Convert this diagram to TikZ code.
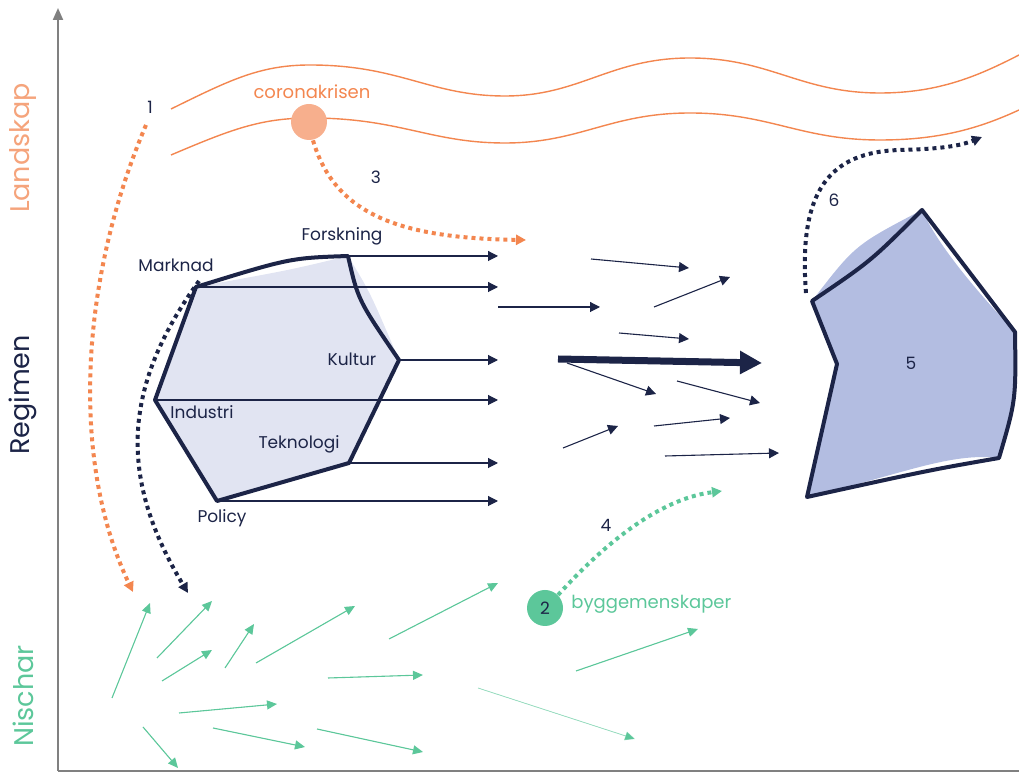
\documentclass[tikz,border=0pt]{standalone}
\usepackage{fontspec}
\setmainfont{Poppins}
\usepackage{xcolor}
\usetikzlibrary{arrows.meta,calc}

\definecolor{navy}{HTML}{1C2447}
\definecolor{coral}{HTML}{F3864F}
\definecolor{peach}{HTML}{F7AF8D}
\definecolor{peachtxt}{HTML}{F5A47C}
\definecolor{mint}{HTML}{5CC79A}
\definecolor{lilac}{HTML}{E1E4F2}
\definecolor{lavender}{HTML}{B3BDE1}
\definecolor{axisgray}{HTML}{808080}

\begin{document}
\begin{tikzpicture}[
  x=0.5pt, y=-0.5pt,
  every node/.style={font=\fontsize{8.5}{10}\selectfont, text=navy, inner sep=0pt},
  biglabel/.style={font=\fontsize{13.5}{15}\selectfont, rotate=90},
  axis/.style ={draw=axisgray, line width=1pt},
  wave/.style ={draw=coral, line width=0.7pt},
  regime/.style={draw=navy, line width=2pt, line join=round},
  flow/.style ={-{Triangle[length=5pt,width=5pt]}, draw=navy, line width=0.55pt},
  bigflow/.style={-{Triangle[length=11pt,width=11pt]}, draw=navy, line width=3.5pt},
  nich/.style ={-{Triangle[length=5pt,width=4.5pt]}, draw=mint, fill=mint, line width=0.55pt},
  dots/.style ={line width=2pt, dash pattern=on 2pt off 2pt,
                -{Triangle[length=5pt,width=5pt]}},
  blob/.style ={circle, minimum size=18pt}
]
\useasboundingbox (0,0) rectangle (1019,774);

%% ---- Axes --------------------------------------------------------
\coordinate (origin) at (58,771);
\coordinate (ytop)   at (58,8);
\coordinate (xend)   at (1019,771);
\draw[axis, -{Triangle[length=6pt,width=5pt]}] (origin) -- (ytop);
\draw[axis] (origin) -- (xend);

\node[biglabel, text=peachtxt] (landskap) at (23,148) {Landskap};
\node[biglabel, text=navy]     (regimen)  at (23,395) {Regimen};
\node[biglabel, text=mint]     (nischar)  at (23,696) {Nischar};

%% ---- Landscape ---------------------------------------------------
\draw[wave] (171,109) .. controls (230,80) and (260,65) .. (310,65)
  .. controls (400,65) and (430,96) .. (505,96)
  .. controls (580,96) and (610,58) .. (690,58)
  .. controls (770,58) and (800,93) .. (880,93)
  .. controls (940,93) and (980,75) .. (1019,55);
\draw[wave] (171,155) .. controls (230,130) and (260,118) .. (310,118)
  .. controls (400,118) and (430,143) .. (505,143)
  .. controls (580,143) and (610,113) .. (690,113)
  .. controls (770,113) and (800,140) .. (880,140)
  .. controls (940,140) and (980,128) .. (1019,110);

\node[blob, fill=peach] (corona) at (309,122) {};
\node[text=coral, font=\fontsize{9}{10}\selectfont] (lcorona) at (312,92) {coronakrisen};

%% ---- Regime ------------------------------------------------------
\coordinate (fo) at (348,256);
\coordinate (ma) at (196,287);
\coordinate (in) at (155,400);
\coordinate (po) at (217,501);
\coordinate (te) at (349,463);
\coordinate (ku) at (399,360);
\coordinate (rim) at (498,0);

\fill[lilac] (ma) .. controls (290,270) .. (fo) .. controls (370,292) .. (ku)
  -- (te) -- (po) -- (in) -- cycle;
\draw[regime] (ma) .. controls (290,258) .. (fo) .. controls (358,300) .. (ku)
  -- (te) -- (po) -- (in) -- cycle;

\node (lfo) at (342,236) {Forskning};
\node (lma) at (176,265) {Marknad};
\node (lku) at (352,359) {Kultur};
\node (lin) at (202,412) {Industri};
\node (lte) at (299,444) {Teknologi};
\node (lpo) at (222,518) {Policy};

\foreach \c in {fo,ma,ku,in,te,po}
  \draw[flow] (\c) -- (\c -| rim);

%% ---- Scattered regime flows --------------------------------------
\foreach \a/\b/\c/\d [count=\i] in {591/259/689/268, 654/307/730/277,
    498/307/600/307, 619/333/689/339, 567/363/656/394, 677/381/760/403,
    563/448/618/426, 654/426/730/418, 665/456/779/453}{
  \coordinate (r\i-s) at (\a,\b);
  \coordinate (r\i-e) at (\c,\d);
  \draw[flow] (r\i-s) -- (r\i-e);
}
\coordinate (main-s) at (558,359);
\coordinate (main-e) at (762,363);
\draw[bigflow] (main-s) -- (main-e);

%% ---- New regime (5) ----------------------------------------------
\coordinate (n-top) at (922,210);
\coordinate (n-lt)  at (812,301);
\coordinate (n-in)  at (837,364);
\coordinate (n-lb)  at (807,497);
\coordinate (n-rb)  at (999,458);
\coordinate (n-rt)  at (1015,332);

\fill[lavender] (n-lt) .. controls (855,245) .. (n-top)
  .. controls (940,250) and (985,300) .. (n-rt)
  .. controls (1015,400) .. (n-rb)
  .. controls (950,452) and (900,475) .. (n-lb) -- (n-in) -- cycle;
\draw[regime] (n-lt) .. controls (871,261) .. (n-top) -- (n-rt)
  .. controls (1016,400) .. (n-rb)
  .. controls (930,470) .. (n-lb) -- (n-in) -- cycle;
\node (l5) at (911,363) {5};

%% ---- Niches ------------------------------------------------------
\foreach \a/\b/\c/\d [count=\i] in {112/698/150/603, 157/658/212/601,
    162/681/212/650, 225/668/254/624, 256/663/355/606, 389/639/498/583,
    328/678/423/675, 179/713/277/704, 213/728/305/747, 317/729/423/752,
    143/727/178/768, 576/671/698/629}{
  \coordinate (g\i-s) at (\a,\b);
  \coordinate (g\i-e) at (\c,\d);
  \draw[nich] (g\i-s) -- (g\i-e);
}
\coordinate (g13-s) at (478,688);
\coordinate (g13-e) at (635,739);
\draw[nich, draw opacity=0.55, line width=0.4pt] (g13-s) -- (g13-e);

\node[blob, fill=mint] (bygg) at (545,608) {2};
\node[text=mint, anchor=west, font=\fontsize{9}{10}\selectfont] (lbygg) at (571,604) {byggemenskaper};

%% ---- Pathways ----------------------------------------------------
\coordinate (p1-s) at (146,125);
\coordinate (p1-e) at (133,592);
\draw[dots, coral] (p1-s) .. controls (80,280) and (70,460) .. (p1-e);
\node (l1) at (150,107) {1};

\coordinate (p3-e) at (526,240);
\draw[dots, coral] (corona.south) ++(4,0) .. controls (335,215) and (400,238) .. (p3-e);
\node (l3) at (376,177) {3};

\coordinate (pm-s) at (199,281);
\coordinate (pm-e) at (188,593);
\draw[dots, navy] (pm-s) .. controls (120,390) and (120,480) .. (pm-e);

\coordinate (p4-e) at (722,491);
\draw[dots, mint] (bygg.north east) .. controls (590,560) and (650,500) .. (p4-e);
\node (l4) at (606,525) {4};

\coordinate (p6-s) at (806,293);
\coordinate (p6-m) at (900,150);
\coordinate (p6-e) at (982,137);
\draw[dots, navy] (p6-s) .. controls (798,190) and (830,152) .. (p6-m)
  .. controls (940,149) and (960,146) .. (p6-e);
\node (l6) at (834,200) {6};

\end{tikzpicture}
\end{document}
